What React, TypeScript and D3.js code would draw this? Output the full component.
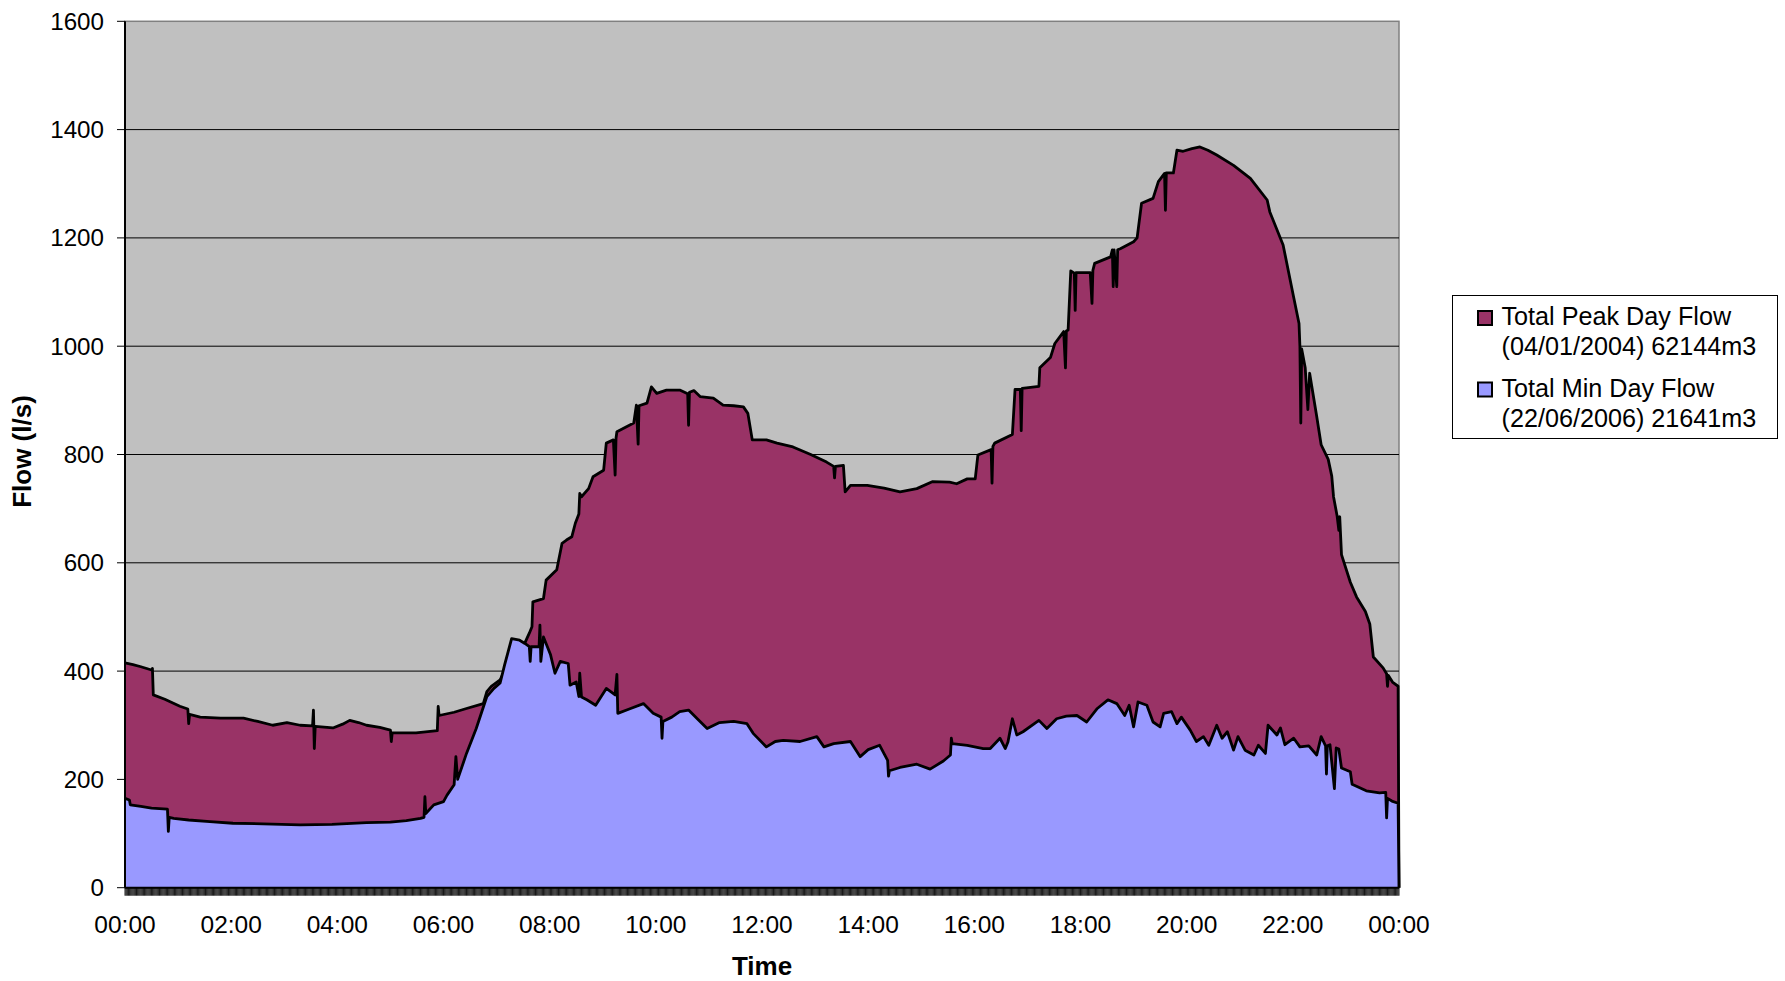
import React from "react";
import * as d3 from "d3";

// [minutes after midnight, flow in l/s]
const peakFlow: [number, number][] = [
  [0, 415], [9, 412], [18, 408], [30, 402], [31, 405], [32, 356], [45, 348], [62, 335],
  [71, 330], [72, 303], [73, 320], [85, 315], [108, 313], [134, 313], [150, 307], [167, 300],
  [183, 305], [198, 300], [212, 299], [213, 328], [214, 257], [215, 298], [235, 295], [246, 302],
  [254, 309], [264, 305], [273, 300], [288, 296], [300, 291], [301, 270], [302, 286], [329, 286],
  [353, 290], [354, 335], [355, 318], [372, 324], [386, 331], [405, 340], [409, 362], [414, 372],
  [424, 384], [438, 430], [452, 452], [457, 470], [460, 482], [461, 528], [473, 534], [476, 568],
  [488, 587], [494, 636], [499, 642], [505, 648], [509, 673], [513, 690], [514, 728], [516, 722],
  [524, 737], [529, 759], [541, 771], [544, 821], [552, 827], [554, 762], [555, 830], [556, 842],
  [575, 858], [578, 891], [580, 819], [581, 890], [590, 895], [595, 925], [601, 913], [612, 919],
  [627, 919], [636, 912], [637, 854], [638, 915], [643, 918], [650, 907], [665, 904], [676, 891],
  [688, 890], [699, 888], [704, 876], [709, 827], [725, 827], [737, 821], [755, 814], [775, 800],
  [793, 786], [801, 778], [802, 757], [803, 778], [812, 780], [814, 731], [820, 743], [839, 743],
  [858, 738], [876, 731], [895, 737], [913, 750], [932, 749], [940, 746], [952, 755], [961, 755],
  [964, 799], [979, 809], [980, 747], [981, 815], [983, 821], [1003, 837], [1006, 920], [1012, 920],
  [1013, 844], [1014, 922], [1033, 926], [1034, 960], [1046, 979], [1051, 1005], [1061, 1027],
  [1063, 960], [1064, 1028], [1066, 1030], [1069, 1139], [1073, 1135], [1074, 1066], [1075, 1136],
  [1091, 1136], [1093, 1079], [1094, 1140], [1096, 1153], [1114, 1165], [1116, 1178], [1117, 1110],
  [1118, 1178], [1121, 1110], [1122, 1178], [1125, 1180], [1140, 1193], [1144, 1200], [1149, 1264],
  [1162, 1273], [1168, 1304], [1175, 1319], [1176, 1251], [1177, 1320], [1185, 1320], [1189, 1362],
  [1196, 1360], [1206, 1365], [1215, 1368], [1224, 1362], [1234, 1353], [1253, 1334], [1272, 1310],
  [1291, 1270], [1294, 1248], [1309, 1187], [1321, 1090], [1327, 1042], [1328, 1000], [1329, 858],
  [1330, 995], [1334, 960], [1337, 883], [1339, 950], [1347, 870], [1352, 818], [1360, 791],
  [1364, 760], [1366, 722], [1370, 687], [1372, 660], [1373, 685], [1375, 615], [1385, 564],
  [1392, 537], [1402, 510], [1407, 487], [1411, 426], [1422, 406], [1426, 395], [1427, 372],
  [1428, 392], [1433, 379], [1439, 372], [1440, 0],
];

const minFlow: [number, number][] = [
  [0, 165], [5, 162], [6, 153], [18, 150], [30, 147], [48, 145], [49, 104], [50, 130], [55, 128],
  [72, 125], [96, 122], [122, 119], [156, 118], [198, 116], [234, 117], [273, 120], [300, 121],
  [318, 124], [334, 128], [338, 130], [339, 168], [340, 137], [349, 153], [360, 159], [364, 171],
  [372, 190], [374, 242], [376, 200], [386, 248], [397, 294], [409, 353], [417, 368], [424, 378],
  [429, 411], [437, 460], [446, 457], [452, 451], [457, 445], [458, 418], [459, 445], [468, 445],
  [469, 485], [470, 418], [473, 463], [481, 430], [486, 396], [492, 418], [501, 414], [503, 374],
  [510, 380], [513, 353], [514, 396], [516, 352], [522, 347], [532, 337], [544, 368], [554, 356],
  [556, 394], [557, 322], [570, 330], [586, 340], [597, 322], [606, 315], [607, 276], [608, 307],
  [618, 315], [627, 325], [637, 328], [648, 310], [658, 294], [672, 305], [688, 307], [703, 303],
  [710, 285], [725, 260], [735, 270], [744, 272], [763, 270], [782, 279], [790, 260], [801, 266],
  [820, 270], [831, 242], [840, 255], [853, 263], [862, 235], [863, 206], [864, 216], [876, 222],
  [895, 228], [910, 219], [925, 234], [933, 245], [934, 276], [935, 266], [952, 263], [970, 257],
  [978, 257], [989, 276], [995, 257], [998, 269], [1003, 312], [1008, 282], [1015, 288], [1033, 309],
  [1042, 294], [1053, 312], [1064, 317], [1076, 318], [1087, 306], [1099, 331], [1111, 347],
  [1121, 340], [1130, 318], [1135, 337], [1140, 297], [1145, 343], [1155, 337], [1162, 306],
  [1170, 297], [1174, 322], [1183, 325], [1189, 303], [1194, 315], [1204, 291], [1211, 270],
  [1219, 279], [1225, 263], [1234, 300], [1240, 276], [1246, 288], [1253, 254], [1258, 279],
  [1266, 254], [1276, 245], [1281, 263], [1289, 248], [1292, 300], [1302, 282], [1306, 295],
  [1311, 264], [1321, 276], [1328, 260], [1338, 262], [1347, 245], [1352, 279], [1357, 262],
  [1358, 210], [1359, 262], [1362, 264], [1367, 183], [1369, 258], [1372, 256], [1375, 221],
  [1385, 214], [1387, 191], [1403, 179], [1418, 175], [1425, 176], [1426, 129], [1427, 165],
  [1432, 160], [1439, 156], [1440, 0],
];

const flowTicks = [0, 200, 400, 600, 800, 1000, 1200, 1400, 1600];
const timeTicks = [0, 120, 240, 360, 480, 600, 720, 840, 960, 1080, 1200, 1320, 1440];
const timeLabels = ["00:00", "02:00", "04:00", "06:00", "08:00", "10:00", "12:00", "14:00", "16:00", "18:00", "20:00", "22:00", "00:00"];

const legendItems = [
  { name: "Total Peak Day Flow", sub: "(04/01/2004) 62144m3", color: "#993366" },
  { name: "Total Min Day Flow", sub: "(22/06/2006) 21641m3", color: "#9999FF" },
];

const W = 1785, H = 981;
const plot = { left: 125, right: 1399, top: 21.3, bottom: 887.7 };
const font = "'Liberation Sans', Arial, sans-serif";

export default function App() {
  const x = d3.scaleLinear().domain([0, 1440]).range([plot.left, plot.right]);
  const y = d3.scaleLinear().domain([0, 1600]).range([plot.bottom, plot.top]);

  const area = d3.area<[number, number]>()
    .x(d => x(d[0])).y0(y(0)).y1(d => y(d[1]));
  const line = d3.line<[number, number]>()
    .x(d => x(d[0])).y(d => y(d[1]));

  // one tick per minute along the category axis
  const minuteTicks = d3.range(0, 1441).map(m => `M${x(m).toFixed(2)},${plot.bottom}v8`).join("");

  return (
    <svg width={W} height={H} style={{ position: "absolute", left: 0, top: 0, background: "#fff" }}
      fontFamily={font}>
      <rect x={plot.left} y={plot.top} width={plot.right - plot.left} height={plot.bottom - plot.top}
        fill="#C0C0C0" stroke="#808080" strokeWidth={1.5} />
      {flowTicks.slice(1, -1).map(t => (
        <line key={t} x1={plot.left} x2={plot.right} y1={y(t)} y2={y(t)} stroke="#000" strokeWidth={1} />
      ))}

      <path d={area(peakFlow) || ""} fill="#993366" />
      <path d={line(peakFlow) || ""} fill="none" stroke="#000" strokeWidth={2.8} strokeLinejoin="round" />
      <path d={area(minFlow) || ""} fill="#9999FF" />
      <path d={line(minFlow) || ""} fill="none" stroke="#000" strokeWidth={2.8} strokeLinejoin="round" />

      {/* axes */}
      <line x1={plot.left} x2={plot.left} y1={plot.top} y2={plot.bottom} stroke="#000" strokeWidth={2} />
      <path d={minuteTicks} stroke="#1a1a1a" strokeWidth={1} />
      <line x1={plot.left} x2={plot.right} y1={plot.bottom} y2={plot.bottom} stroke="#000" strokeWidth={2} />
      {flowTicks.map(t => (
        <g key={t}>
          <line x1={plot.left - 8} x2={plot.left} y1={y(t)} y2={y(t)} stroke="#000" strokeWidth={1} />
          <text x={104} y={y(t) + 8.4} textAnchor="end" fontSize={24.2}>{t}</text>
        </g>
      ))}
      {timeTicks.map((t, i) => (
        <text key={i} x={x(t)} y={932.7} textAnchor="middle" fontSize={24.5}>{timeLabels[i]}</text>
      ))}

      <text x={(plot.left + plot.right) / 2} y={975} textAnchor="middle" fontSize={26} fontWeight="bold">Time</text>
      <text transform="translate(31,451.5) rotate(-90)" textAnchor="middle" fontSize={26} fontWeight="bold">Flow (l/s)</text>

      {/* legend */}
      <rect x={1452.5} y={295.5} width={325} height={143} fill="#fff" stroke="#000" strokeWidth={1} />
      {legendItems.map((d, i) => (
        <g key={d.name} transform={`translate(0,${i * 71.5})`}>
          <rect x={1478} y={311} width={14} height={14} fill={d.color} stroke="#000" strokeWidth={2} />
          <text x={1501.5} y={325} fontSize={25.2}>{d.name}</text>
          <text x={1501.5} y={355} fontSize={25.2}>{d.sub}</text>
        </g>
      ))}
    </svg>
  );
}
